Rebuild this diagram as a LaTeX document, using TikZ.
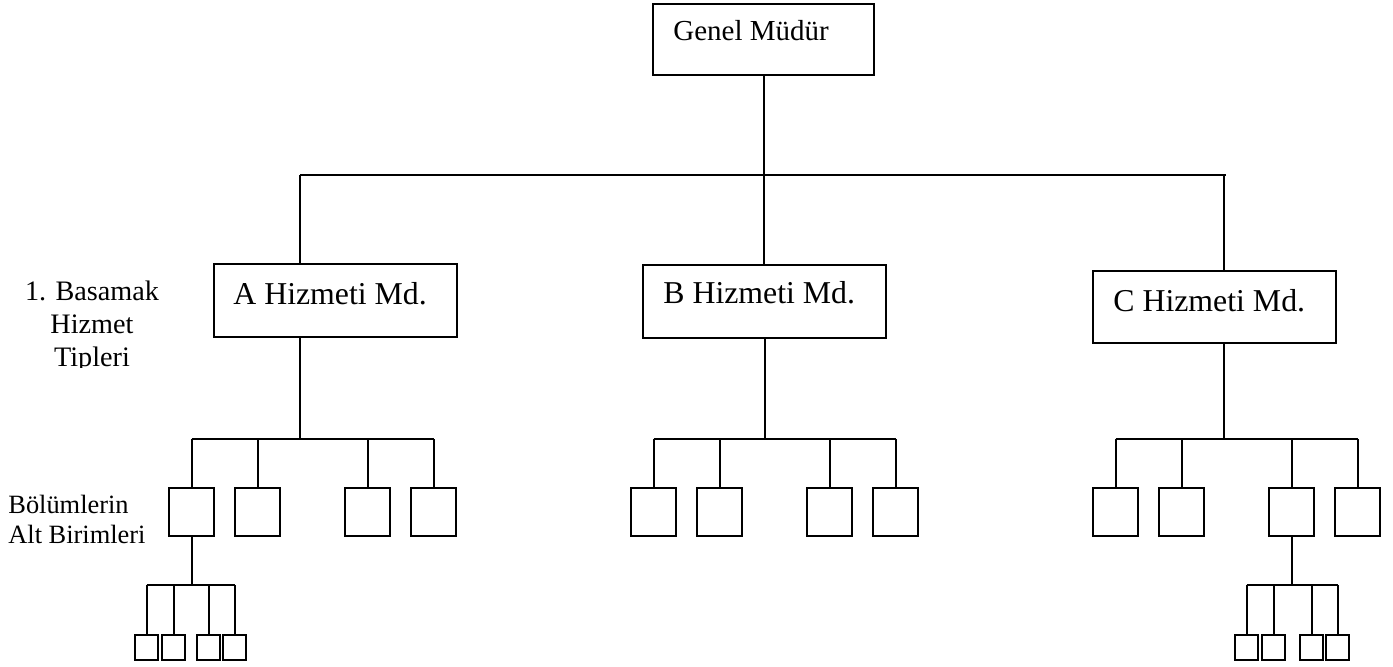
\documentclass[tikz,border=0pt]{standalone}
\usepackage{fontspec}
\setmainfont{Liberation Serif}
\begin{document}
\begin{tikzpicture}[x=0.5pt,y=-0.5pt,
  sz/.style 2 args={minimum width=#1*0.5pt, minimum height=#2*0.5pt},
  box/.style={draw=black, line width=1pt, fill=white, inner sep=0pt, anchor=north west},
  conn/.style={draw=black, line width=1pt},
  boxtxt/.style={anchor=base west, inner sep=0pt, font=\fontsize{15.9pt}{18pt}\selectfont},
  toptxt/.style={anchor=base west, inner sep=0pt, font=\fontsize{14.5pt}{17pt}\selectfont},
  sidetxt/.style={inner sep=0pt, font=\fontsize{14.1pt}{16.5pt}\selectfont},
  sidetxtb/.style={inner sep=0pt, font=\fontsize{13.2pt}{15pt}\selectfont}]
\useasboundingbox (0,0) rectangle (1393,666);

% top level boxes
\node[box, sz={221}{71}] (gm) at (652,3) {};
\node[box, sz={243}{73}] (A) at (213,263) {};
\node[box, sz={243}{73}] (B) at (642,264) {};
\node[box, sz={243}{72}] (C) at (1092,270) {};

\node[toptxt] (tgm) at ([shift={(21,37)}]gm.north west) {Genel Müdür};
\node[boxtxt] (tA) at ([shift={(20,41)}]A.north west) {A Hizmeti Md.};
\node[boxtxt] (tB) at ([shift={(21,39)}]B.north west) {B Hizmeti Md.};
\node[boxtxt] (tC) at ([shift={(21,41)}]C.north west) {C Hizmeti Md.};

% second level boxes
\foreach \n/\x in {a1/168,a2/234,a3/344,a4/410,b1/630,b2/696,b3/806,b4/872,c1/1092,c2/1158,c3/1268,c4/1334}
  \node[box, sz={45}{48}] (\n) at (\x,487) {};

% third level boxes
\foreach \n/\x in {aa1/134,aa2/161,aa3/196,aa4/222,cc1/1234,cc2/1261,cc3/1299,cc4/1325}
  \node[box, sz={23}{25}] (\n) at (\x,634) {};

% junction coordinates
\coordinate (busL) at (300,175);
\coordinate (busR) at (1226,175);
\coordinate (dropC) at (1224,175);
\coordinate (lvl2) at (0,439);
\coordinate (lvl3) at (0,585);

% level 1 connectors
\draw[conn] (gm.south) -- (gm.south |- busL);
\draw[conn] (busL) -- (busR);
\draw[conn] (busL) -- (A.north -| busL);
\draw[conn] (gm.south |- busL) -- (gm.south |- B.north);
\draw[conn] (dropC) -- (C.north -| dropC);

% level 2 connectors
\draw[conn] (A.south -| busL) -- (busL |- lvl2);
\draw[conn] (a1.north |- lvl2) -- (a4.north |- lvl2);
\draw[conn] (B.south) -- (B.south |- lvl2);
\draw[conn] (b1.north |- lvl2) -- (b4.north |- lvl2);
\draw[conn] (C.south -| dropC) -- (dropC |- lvl2);
\draw[conn] (c1.north |- lvl2) -- (c4.north |- lvl2);
\foreach \n in {a1,a2,a3,a4,b1,b2,b3,b4,c1,c2,c3,c4}
  \draw[conn] (\n.north |- lvl2) -- (\n.north);

% level 3 connectors
\draw[conn] (a1.south) -- (a1.south |- lvl3);
\draw[conn] (aa1.north |- lvl3) -- (aa4.north |- lvl3);
\draw[conn] (c3.south) -- (c3.south |- lvl3);
\draw[conn] (cc1.north |- lvl3) -- (cc4.north |- lvl3);
\foreach \n in {aa1,aa2,aa3,aa4,cc1,cc2,cc3,cc4}
  \draw[conn] (\n.north |- lvl3) -- (\n.north);

% side labels
\begin{scope}
  \clip (0,240) rectangle (200,367);
  \node[sidetxt, align=center, anchor=base] (lbl1) at (92,366) {1. Basamak\\Hizmet\\Tipleri};
\end{scope}
\node[sidetxtb, align=left, anchor=base west] (lbl2) at (8,543) {Bölümlerin\\Alt Birimleri};
\end{tikzpicture}
\end{document}
